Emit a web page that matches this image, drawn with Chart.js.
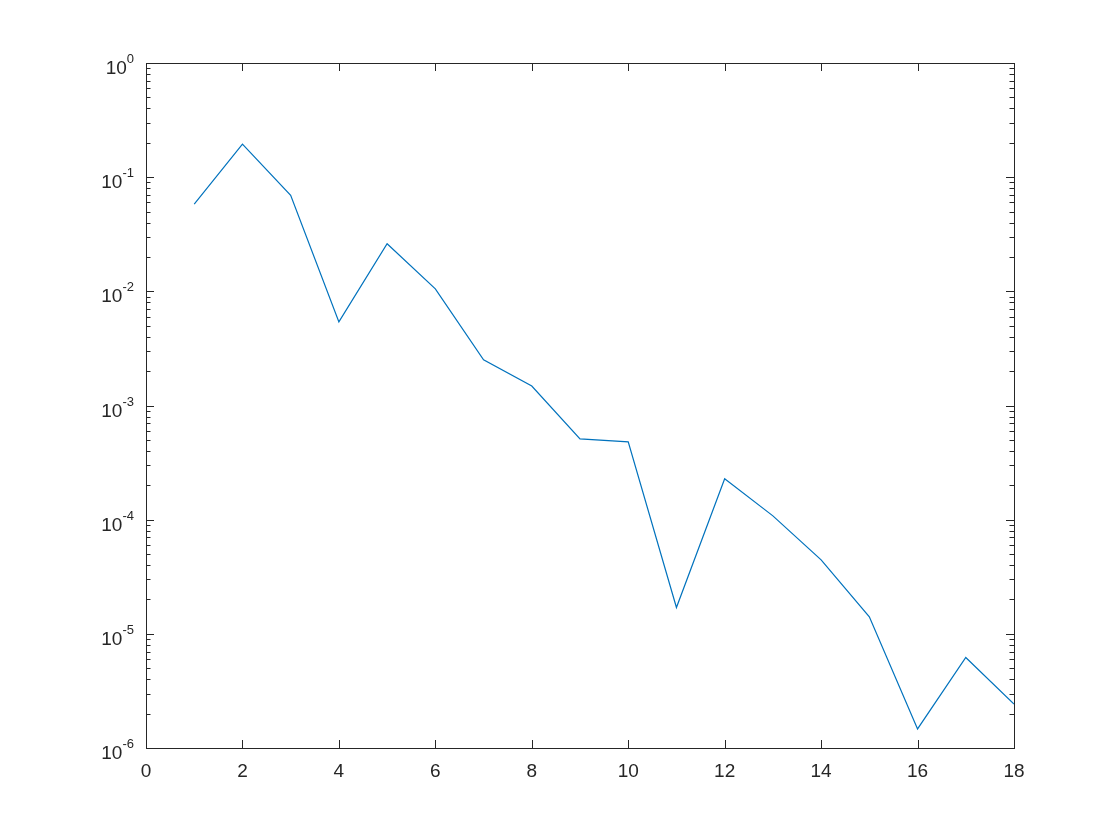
<!DOCTYPE html>
<html>
<head>
<meta charset="utf-8">
<script src="https://cdn.jsdelivr.net/npm/chart.js@4"></script>
<style>
  html, body { margin: 0; padding: 0; background: #ffffff; }
  #wrap { width: 1120px; height: 840px; }
</style>
</head>
<body>
<div id="wrap"><canvas id="chart1" width="1120" height="840"></canvas></div>
<script>
// 資料 (從圖上讀出來的)
const xValues = [1, 2, 3, 4, 5, 6, 7, 8, 9, 10, 11, 12, 13, 14, 15, 16, 17, 18];
const yValues = [0.058, 0.195, 0.0693, 0.0054, 0.0261, 0.0105, 0.00251, 0.00148, 0.00051,
                 0.00048, 1.70e-5, 2.28e-4, 1.08e-4, 4.45e-5, 1.41e-5, 1.47e-6, 6.2e-6, 2.43e-6];
const xTicks = [0, 2, 4, 6, 8, 10, 12, 14, 16, 18];
const yExponents = [0, -1, -2, -3, -4, -5, -6];   // y 軸刻度 10^n

const axisColor = '#262626';
const fontFamily = '"Liberation Sans", Arial, Helvetica, sans-serif';

// 畫框線、朝內的刻度、以及 10^n 標籤
const matlabAxes = {
  id: 'matlabAxes',
  afterDraw(chart) {
    const ctx = chart.ctx;
    const a = chart.chartArea;
    const xs = chart.scales.x;
    const ys = chart.scales.y;
    ctx.save();
    ctx.strokeStyle = axisColor;
    ctx.lineWidth = 1;
    ctx.beginPath();
    // x 刻度 (上下)
    xTicks.forEach(v => {
      const px = Math.round(xs.getPixelForValue(v)) + 0.5;
      ctx.moveTo(px, a.bottom); ctx.lineTo(px, a.bottom - 8);
      ctx.moveTo(px, a.top); ctx.lineTo(px, a.top + 8);
    });
    // y 刻度 (左右), 主刻度 + 次刻度
    yExponents.forEach(e => {
      const py = Math.round(ys.getPixelForValue(Math.pow(10, e))) + 0.5;
      ctx.moveTo(a.left, py); ctx.lineTo(a.left + 8, py);
      ctx.moveTo(a.right, py); ctx.lineTo(a.right - 8, py);
      if (e > yExponents[yExponents.length - 1]) {
        for (let m = 2; m <= 9; m++) {
          const v = m * Math.pow(10, e - 1);
          const pm = Math.round(ys.getPixelForValue(v)) + 0.5;
          ctx.moveTo(a.left, pm); ctx.lineTo(a.left + 4.5, pm);
          ctx.moveTo(a.right, pm); ctx.lineTo(a.right - 4.5, pm);
        }
      }
    });
    ctx.stroke();
    // 外框
    ctx.strokeRect(Math.round(a.left) + 0.5, Math.round(a.top) + 0.5,
                   Math.round(a.right - a.left), Math.round(a.bottom - a.top));
    // y 標籤 10^n
    ctx.fillStyle = axisColor;
    ctx.textBaseline = 'alphabetic';
    yExponents.forEach(e => {
      const py = ys.getPixelForValue(Math.pow(10, e));
      const expText = e === 0 ? '0' : String(e);
      ctx.font = '13px ' + fontFamily;
      const expW = ctx.measureText(expText).width;
      const right = a.left - 12;
      ctx.textAlign = 'left';
      ctx.fillText(expText, right - expW, py);
      ctx.font = '19px ' + fontFamily;
      ctx.textAlign = 'right';
      ctx.fillText('10', right - expW, py + 11);
    });
    ctx.restore();
  }
};

const ctx = document.getElementById('chart1');
new Chart(ctx, {
  type: 'line',
  data: {
    datasets: [{
      label: 'y',
      data: xValues.map((x, i) => ({ x: x, y: yValues[i] })),
      borderColor: '#0072BD',
      backgroundColor: 'transparent',
      borderWidth: 1.2,
      pointRadius: 0,
      tension: 0,
      fill: false
    }]
  },
  options: {
    responsive: false,
    animation: false,
    layout: { padding: { left: 0, top: 63, right: 106, bottom: 0 } },
    plugins: {
      legend: { display: false },
      tooltip: { enabled: false }
    },
    scales: {
      x: {
        type: 'linear',
        min: 0,
        max: 18,
        afterFit: s => { s.height = 92; },
        afterBuildTicks: s => { s.ticks = xTicks.map(v => ({ value: v })); },
        grid: { display: false },
        border: { display: false },
        ticks: {
          color: axisColor,
          padding: 4,
          maxRotation: 0,
          font: { family: fontFamily, size: 19 }
        }
      },
      y: {
        type: 'logarithmic',
        min: 1e-6,
        max: 1,
        afterFit: s => { s.width = 146; },
        grid: { display: false },
        border: { display: false },
        ticks: { display: false }
      }
    }
  },
  plugins: [matlabAxes]
});
</script>
</body>
</html>
